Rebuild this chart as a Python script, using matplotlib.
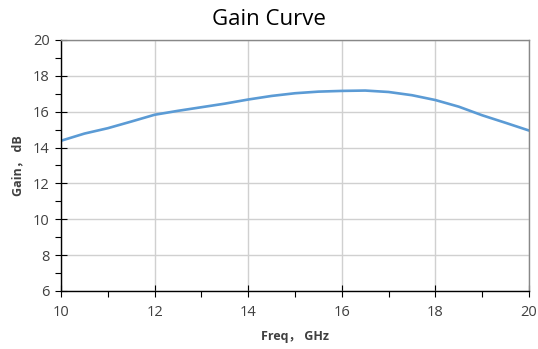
import matplotlib
matplotlib.use("Agg")
import matplotlib.pyplot as plt
from matplotlib.ticker import MultipleLocator

freq = [10, 10.5, 11, 11.5, 12, 12.5, 13, 13.5, 14, 14.5, 15, 15.5,
        16, 16.5, 17, 17.5, 18, 18.5, 19, 19.5, 20]
gain = [14.38, 14.78, 15.08, 15.45, 15.83, 16.05, 16.25, 16.45, 16.68, 16.88,
        17.03, 17.12, 17.16, 17.18, 17.10, 16.92, 16.65, 16.28, 15.80, 15.38, 14.95]

title = "Gain Curve"
xlabel = "Freq， GHz"
ylabel = "Gain， dB"
xticks = [10, 12, 14, 16, 18, 20]
yticks = [6, 8, 10, 12, 14, 16, 18, 20]

fam = ['Open Sans', 'Noto Sans CJK SC', 'DejaVu Sans']
plt.rcParams['font.family'] = fam

fig = plt.figure(figsize=(5.38, 3.49), dpi=100)
ax = fig.add_axes([0.1134, 0.1662, 0.8699, 0.7192])

ax.plot(freq, gain, color='#5b9bd5', lw=1.9, solid_capstyle='round')

ax.set_xlim(10, 20)
ax.set_ylim(6, 20)
ax.set_xticks(xticks)
ax.set_yticks(yticks)
ax.xaxis.set_minor_locator(MultipleLocator(1))
ax.yaxis.set_minor_locator(MultipleLocator(1))
ax.tick_params(which='major', direction='inout', length=8, width=0.8, color='black',
               labelsize=10.5, labelcolor='#404040', pad=4)
ax.tick_params(which='minor', direction='out', length=4, width=0.8, color='black')
ax.tick_params(axis='x', which='major', pad=6)

ax.grid(True, which='major', color='#d0d0d0', lw=1)
ax.set_axisbelow(True)

ax.spines['left'].set_color('black')
ax.spines['bottom'].set_color('black')
ax.spines['top'].set_color('#888888')
ax.spines['right'].set_color('#888888')
for s in ax.spines.values():
    s.set_linewidth(1)

fig.text(0.5, 0.945, title, fontsize=16, color='black', ha='center', va='center')
ax.set_xlabel(xlabel, fontsize=9, fontweight='bold', color='#404040', labelpad=7)
ax.set_ylabel(ylabel, fontsize=9, fontweight='bold', color='#404040', labelpad=6)

fig.savefig('out.png', dpi=100)
